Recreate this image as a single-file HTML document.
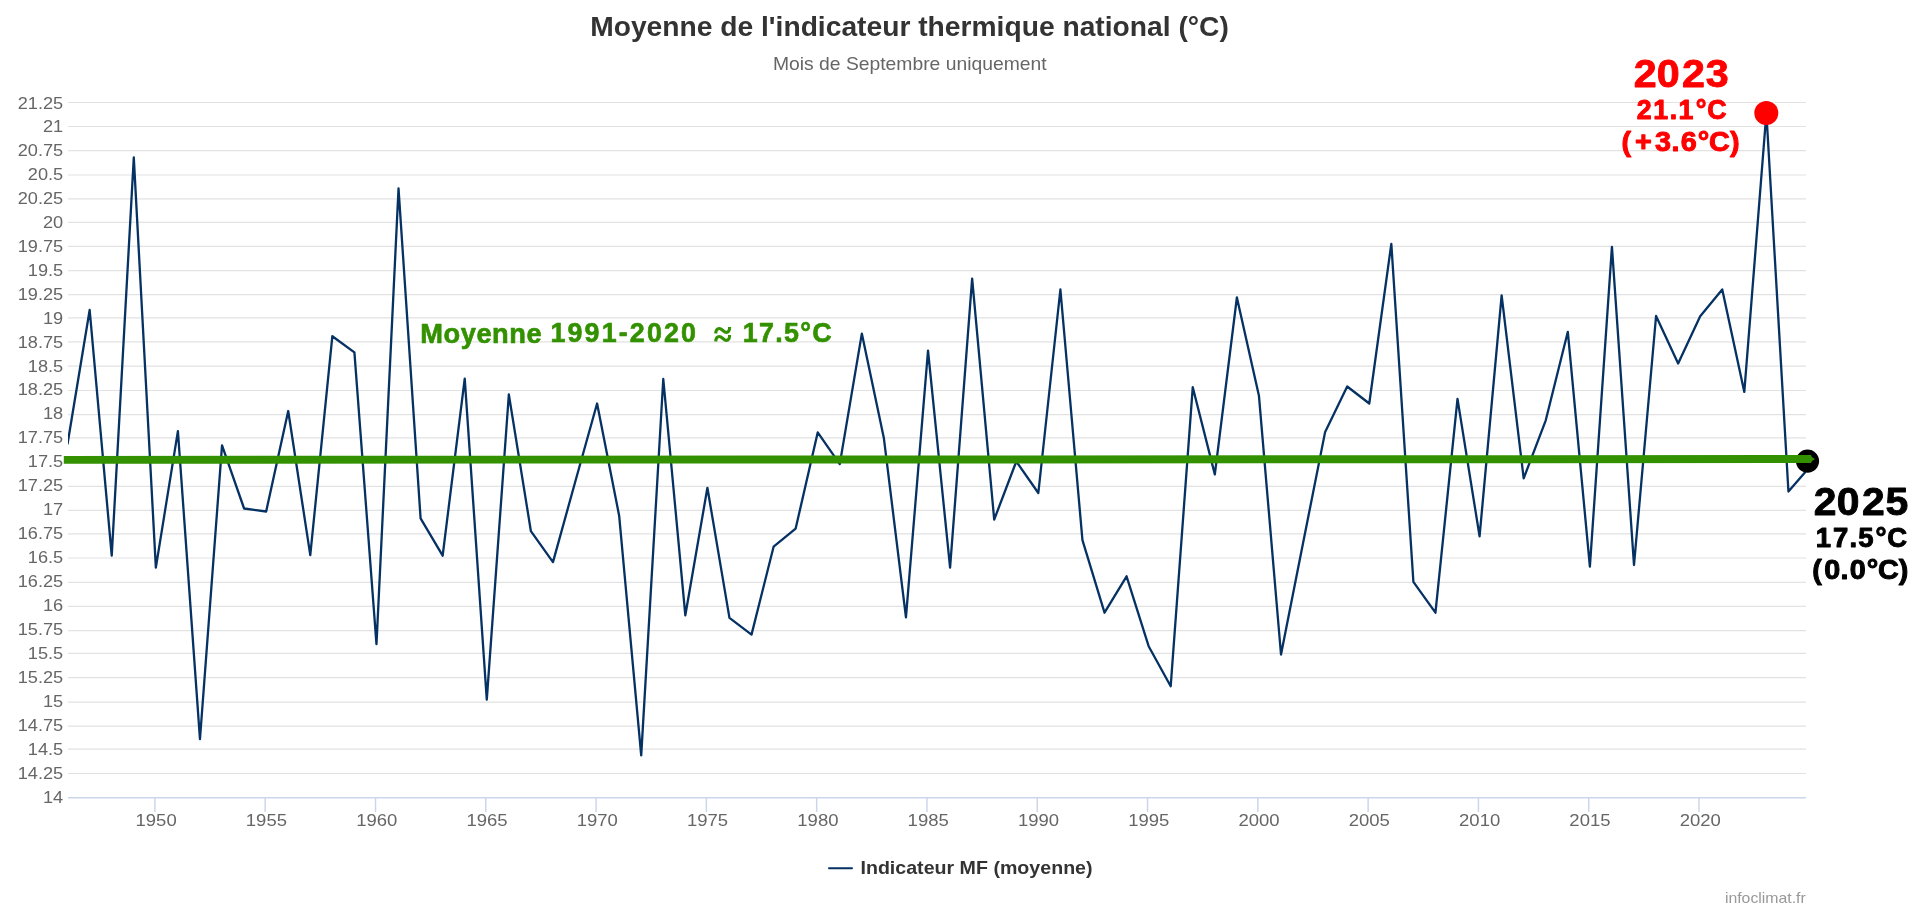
<!DOCTYPE html>
<html><head><meta charset="utf-8">
<style>
html,body{margin:0;padding:0;background:#fff;}
body{width:1920px;height:911px;overflow:hidden;}
svg{display:block;will-change:transform;}
text{font-family:"Liberation Sans",sans-serif;}
</style></head><body>
<svg width="1920" height="911" viewBox="0 0 1920 911">
<rect width="1920" height="911" fill="#fff"/>
<text transform="translate(590.15,36.2) scale(1.0077,1.0182)" font-size="28" font-weight="bold" fill="#333333">Moyenne de l'indicateur thermique national (°C)</text>
<text transform="translate(772.9,69.8) scale(1.0742,1.016)" font-size="18" font-weight="normal" fill="#666666">Mois de Septembre uniquement</text>
<g stroke="#e2e2e2" stroke-width="1.2"><line x1="68" x2="1806" y1="773.5" y2="773.5"/><line x1="68" x2="1806" y1="749.2" y2="749.2"/><line x1="68" x2="1806" y1="726.2" y2="726.2"/><line x1="68" x2="1806" y1="702.2" y2="702.2"/><line x1="68" x2="1806" y1="677.7" y2="677.7"/><line x1="68" x2="1806" y1="653.4" y2="653.4"/><line x1="68" x2="1806" y1="630.6" y2="630.6"/><line x1="68" x2="1806" y1="606.3" y2="606.3"/><line x1="68" x2="1806" y1="582.3" y2="582.3"/><line x1="68" x2="1806" y1="558.0" y2="558.0"/><line x1="68" x2="1806" y1="533.8" y2="533.8"/><line x1="68" x2="1806" y1="510.3" y2="510.3"/><line x1="68" x2="1806" y1="486.3" y2="486.3"/><line x1="68" x2="1806" y1="462.2" y2="462.2"/><line x1="68" x2="1806" y1="437.9" y2="437.9"/><line x1="68" x2="1806" y1="414.6" y2="414.6"/><line x1="68" x2="1806" y1="390.5" y2="390.5"/><line x1="68" x2="1806" y1="366.1" y2="366.1"/><line x1="68" x2="1806" y1="341.8" y2="341.8"/><line x1="68" x2="1806" y1="317.9" y2="317.9"/><line x1="68" x2="1806" y1="294.6" y2="294.6"/><line x1="68" x2="1806" y1="270.6" y2="270.6"/><line x1="68" x2="1806" y1="246.4" y2="246.4"/><line x1="68" x2="1806" y1="222.45" y2="222.45"/><line x1="68" x2="1806" y1="198.9" y2="198.9"/><line x1="68" x2="1806" y1="175.0" y2="175.0"/><line x1="68" x2="1806" y1="150.7" y2="150.7"/><line x1="68" x2="1806" y1="126.5" y2="126.5"/><line x1="68" x2="1806" y1="102.5" y2="102.5"/></g>
<g font-size="17" fill="#666666"><text transform="translate(63.23,803) scale(1.0701,1.0041)" text-anchor="end">14</text><text transform="translate(63.23,779) scale(1.0701,1.0041)" text-anchor="end">14.25</text><text transform="translate(63.23,755) scale(1.0701,1.0041)" text-anchor="end">14.5</text><text transform="translate(63.23,731) scale(1.0701,1.0041)" text-anchor="end">14.75</text><text transform="translate(63.23,707) scale(1.0701,1.0041)" text-anchor="end">15</text><text transform="translate(63.23,683) scale(1.0701,1.0041)" text-anchor="end">15.25</text><text transform="translate(63.23,659) scale(1.0701,1.0041)" text-anchor="end">15.5</text><text transform="translate(63.23,635) scale(1.0701,1.0041)" text-anchor="end">15.75</text><text transform="translate(63.23,611) scale(1.0701,1.0041)" text-anchor="end">16</text><text transform="translate(63.23,587) scale(1.0701,1.0041)" text-anchor="end">16.25</text><text transform="translate(63.23,563) scale(1.0701,1.0041)" text-anchor="end">16.5</text><text transform="translate(63.23,539) scale(1.0701,1.0041)" text-anchor="end">16.75</text><text transform="translate(63.23,515) scale(1.0701,1.0041)" text-anchor="end">17</text><text transform="translate(63.23,491) scale(1.0701,1.0041)" text-anchor="end">17.25</text><text transform="translate(63.23,467) scale(1.0701,1.0041)" text-anchor="end">17.5</text><text transform="translate(63.23,443) scale(1.0701,1.0041)" text-anchor="end">17.75</text><text transform="translate(63.23,419) scale(1.0701,1.0041)" text-anchor="end">18</text><text transform="translate(63.23,395) scale(1.0701,1.0041)" text-anchor="end">18.25</text><text transform="translate(63.23,372) scale(1.0701,1.0041)" text-anchor="end">18.5</text><text transform="translate(63.23,348) scale(1.0701,1.0041)" text-anchor="end">18.75</text><text transform="translate(63.23,324) scale(1.0701,1.0041)" text-anchor="end">19</text><text transform="translate(63.23,300) scale(1.0701,1.0041)" text-anchor="end">19.25</text><text transform="translate(63.23,276) scale(1.0701,1.0041)" text-anchor="end">19.5</text><text transform="translate(63.23,252) scale(1.0701,1.0041)" text-anchor="end">19.75</text><text transform="translate(63.23,228) scale(1.0701,1.0041)" text-anchor="end">20</text><text transform="translate(63.23,204) scale(1.0701,1.0041)" text-anchor="end">20.25</text><text transform="translate(63.23,180) scale(1.0701,1.0041)" text-anchor="end">20.5</text><text transform="translate(63.23,156) scale(1.0701,1.0041)" text-anchor="end">20.75</text><text transform="translate(63.23,132) scale(1.0701,1.0041)" text-anchor="end">21</text><text transform="translate(63.23,109) scale(1.0701,1.0041)" text-anchor="end">21.25</text></g>
<line x1="68" x2="1806" y1="797.8" y2="797.8" stroke="#ccd6eb" stroke-width="1.6"/>
<g stroke="#ccd6eb" stroke-width="1.5"><line x1="154.90" x2="154.90" y1="797.8" y2="812"/><line x1="265.19" x2="265.19" y1="797.8" y2="812"/><line x1="375.49" x2="375.49" y1="797.8" y2="812"/><line x1="485.78" x2="485.78" y1="797.8" y2="812"/><line x1="596.07" x2="596.07" y1="797.8" y2="812"/><line x1="706.36" x2="706.36" y1="797.8" y2="812"/><line x1="816.66" x2="816.66" y1="797.8" y2="812"/><line x1="926.95" x2="926.95" y1="797.8" y2="812"/><line x1="1037.24" x2="1037.24" y1="797.8" y2="812"/><line x1="1147.54" x2="1147.54" y1="797.8" y2="812"/><line x1="1257.83" x2="1257.83" y1="797.8" y2="812"/><line x1="1368.12" x2="1368.12" y1="797.8" y2="812"/><line x1="1478.42" x2="1478.42" y1="797.8" y2="812"/><line x1="1588.71" x2="1588.71" y1="797.8" y2="812"/><line x1="1699.00" x2="1699.00" y1="797.8" y2="812"/></g>
<g font-size="17" fill="#666666"><text transform="translate(156.12,826.2) scale(1.0889,0.9878)" text-anchor="middle">1950</text><text transform="translate(266.41,826.2) scale(1.0889,0.9878)" text-anchor="middle">1955</text><text transform="translate(376.71,826.2) scale(1.0889,0.9878)" text-anchor="middle">1960</text><text transform="translate(487.00,826.2) scale(1.0889,0.9878)" text-anchor="middle">1965</text><text transform="translate(597.29,826.2) scale(1.0889,0.9878)" text-anchor="middle">1970</text><text transform="translate(707.58,826.2) scale(1.0889,0.9878)" text-anchor="middle">1975</text><text transform="translate(817.88,826.2) scale(1.0889,0.9878)" text-anchor="middle">1980</text><text transform="translate(928.17,826.2) scale(1.0889,0.9878)" text-anchor="middle">1985</text><text transform="translate(1038.46,826.2) scale(1.0889,0.9878)" text-anchor="middle">1990</text><text transform="translate(1148.76,826.2) scale(1.0889,0.9878)" text-anchor="middle">1995</text><text transform="translate(1259.05,826.2) scale(1.0889,0.9878)" text-anchor="middle">2000</text><text transform="translate(1369.34,826.2) scale(1.0889,0.9878)" text-anchor="middle">2005</text><text transform="translate(1479.64,826.2) scale(1.0889,0.9878)" text-anchor="middle">2010</text><text transform="translate(1589.93,826.2) scale(1.0889,0.9878)" text-anchor="middle">2015</text><text transform="translate(1700.22,826.2) scale(1.0889,0.9878)" text-anchor="middle">2020</text></g>
<defs><clipPath id="pc"><rect x="68" y="90" width="1738" height="720"/></clipPath></defs>
<polyline clip-path="url(#pc)" points="67.60,443.50 89.66,310.00 111.73,555.70 133.79,157.50 155.85,567.60 177.91,431.10 199.97,739.10 222.04,445.30 244.10,508.50 266.16,511.50 288.22,411.00 310.28,555.20 332.35,336.20 354.41,352.40 376.47,644.20 398.53,188.50 420.59,518.30 442.66,555.70 464.72,378.70 486.78,699.60 508.84,394.50 530.90,531.20 552.97,562.10 575.03,482.50 597.09,403.50 619.15,515.70 641.21,755.40 663.28,379.00 685.34,615.30 707.40,487.80 729.46,617.90 751.52,634.60 773.59,546.70 795.65,528.60 817.71,432.40 839.77,464.10 861.83,333.60 883.90,438.30 905.96,617.40 928.02,350.60 950.08,567.60 972.14,278.60 994.21,519.60 1016.27,461.50 1038.33,493.00 1060.39,289.50 1082.45,540.20 1104.52,612.70 1126.58,576.30 1148.64,646.20 1170.70,686.20 1192.76,387.20 1214.83,474.40 1236.89,297.50 1258.95,395.80 1281.01,654.50 1303.07,543.00 1325.14,431.90 1347.20,386.50 1369.26,403.50 1391.32,243.80 1413.38,581.80 1435.45,612.70 1457.51,398.90 1479.57,536.30 1501.63,295.40 1523.69,478.30 1545.76,420.30 1567.82,331.80 1589.88,566.60 1611.94,246.90 1634.00,565.00 1656.07,316.00 1678.13,363.50 1700.19,316.30 1722.25,289.50 1744.31,391.90 1766.38,113.00 1788.44,491.50 1810.50,466.00" fill="none" stroke="#053163" stroke-width="2.3" stroke-linejoin="round" stroke-linecap="round"/>
<circle cx="1807.5" cy="461.1" r="11.6" fill="#000"/>
<polygon points="63.8,455.9 1811,455.1 1812,457.3 1815,459.1 1812,461.0 1811,463.1 63.8,463.8" fill="#339100"/>
<circle cx="1766.3" cy="112.9" r="12" fill="#ff0000"/>
<g font-size="40" font-weight="bold" fill="#ff0000" stroke="#ff0000" stroke-width="0.9" stroke-linejoin="round"><text transform="translate(1633.78,87.05) scale(1.0316,0.9812)">2</text><text transform="translate(1656.75,87.05) scale(1.0316,0.9812)">0</text><text transform="translate(1682.02,87.05) scale(1.0316,0.9812)">2</text><text transform="translate(1705.7,87.05) scale(1.0316,0.9812)">3</text></g>
<g font-size="28" font-weight="bold" fill="#ff0000" stroke="#ff0000" stroke-width="1.0" stroke-linejoin="round"><text transform="translate(1636.72,118.9) scale(0.9548,0.9902)">2</text><text transform="translate(1653.28,118.9) scale(0.9548,0.9902)">1</text><text transform="translate(1669.68,118.9) scale(0.9548,0.9902)">.</text><text transform="translate(1678.48,118.9) scale(0.9548,0.9902)">1</text><text transform="translate(1695.82,118.9) scale(0.9548,0.9902)">°</text><text transform="translate(1707.35,118.9) scale(0.9548,0.9902)">C</text></g>
<g font-size="28" font-weight="bold" fill="#ff0000" stroke="#ff0000" stroke-width="1.0" stroke-linejoin="round"><text transform="translate(1621.45,150.95) scale(1.0271,0.988)">(</text><text transform="translate(1635.05,150.95) scale(1.0271,0.988)">+</text><text transform="translate(1655.07,150.95) scale(1.0271,0.988)">3</text><text transform="translate(1671.45,150.95) scale(1.0271,0.988)">.</text><text transform="translate(1680.8,150.95) scale(1.0271,0.988)">6</text><text transform="translate(1697.7,150.95) scale(1.0271,0.988)">°</text><text transform="translate(1709.08,150.95) scale(1.0271,0.988)">C</text><text transform="translate(1729.92,150.95) scale(1.0271,0.988)">)</text></g>
<g font-size="40" font-weight="bold" fill="#000000" stroke="#000000" stroke-width="0.9" stroke-linejoin="round"><text transform="translate(1813.65,515.15) scale(1.0229,0.9812)">2</text><text transform="translate(1836.78,515.15) scale(1.0229,0.9812)">0</text><text transform="translate(1862.1,515.15) scale(1.0229,0.9812)">2</text><text transform="translate(1885.62,515.15) scale(1.0229,0.9812)">5</text></g>
<g font-size="28" font-weight="bold" fill="#000000" stroke="#000000" stroke-width="1.0" stroke-linejoin="round"><text transform="translate(1815.68,547.3) scale(0.9824,0.9975)">1</text><text transform="translate(1833.02,547.3) scale(0.9824,0.9975)">7</text><text transform="translate(1849.4,547.3) scale(0.9824,0.9975)">.</text><text transform="translate(1858.18,547.3) scale(0.9824,0.9975)">5</text><text transform="translate(1875.6,547.3) scale(0.9824,0.9975)">°</text><text transform="translate(1887.2,547.3) scale(0.9824,0.9975)">C</text></g>
<g font-size="28" font-weight="bold" fill="#000000" stroke="#000000" stroke-width="1.0" stroke-linejoin="round"><text transform="translate(1812.35,578.75) scale(1.0279,0.9735)">(</text><text transform="translate(1824.18,578.75) scale(1.0279,0.9735)">0</text><text transform="translate(1840.55,578.75) scale(1.0279,0.9735)">.</text><text transform="translate(1849.78,578.75) scale(1.0279,0.9735)">0</text><text transform="translate(1866.8,578.75) scale(1.0279,0.9735)">°</text><text transform="translate(1877.98,578.75) scale(1.0279,0.9735)">C</text><text transform="translate(1898.82,578.75) scale(1.0279,0.9735)">)</text></g>
<text transform="translate(420.3,342.55) scale(1.0486,1.0486)" font-size="26" font-weight="bold" fill="#339100" stroke="#339100" stroke-width="0.6" stroke-linejoin="round" letter-spacing="0.511">Moyenne</text>
<text transform="translate(550.45,342.45) scale(1.0324,1.0324)" font-size="26" font-weight="bold" fill="#339100" stroke="#339100" stroke-width="0.6" stroke-linejoin="round" letter-spacing="2.093">1991-2020</text>
<g fill="none" stroke="#339100" stroke-width="3.1"><path d="M715.8,333.6 C715.8,329.5 717.5,328.5 719.3,328.5 C722,328.5 723.8,332.4 726.3,332.4 C728.5,332.4 729.6,330.5 729.6,327.0"/><path transform="translate(0,8)" d="M715.8,333.6 C715.8,329.5 717.5,328.5 719.3,328.5 C722,328.5 723.8,332.4 726.3,332.4 C728.5,332.4 729.6,330.5 729.6,327.0"/></g>
<text transform="translate(742.65,342.45) scale(1.0324,1.0324)" font-size="26" font-weight="bold" fill="#339100" stroke="#339100" stroke-width="0.6" stroke-linejoin="round" letter-spacing="1.302">17.5°C</text>
<line x1="829" x2="852" y1="868.3" y2="868.3" stroke="#053163" stroke-width="2" stroke-linecap="round"/>
<text transform="translate(860.45,874.2) scale(1.1543,1.0638)" font-size="17" font-weight="bold" fill="#333333">Indicateur MF (moyenne)</text>
<text transform="translate(1724.9,903.2) scale(1.1305,1.0146)" font-size="14" font-weight="normal" fill="#999999">infoclimat.fr</text>
</svg>
</body></html>
